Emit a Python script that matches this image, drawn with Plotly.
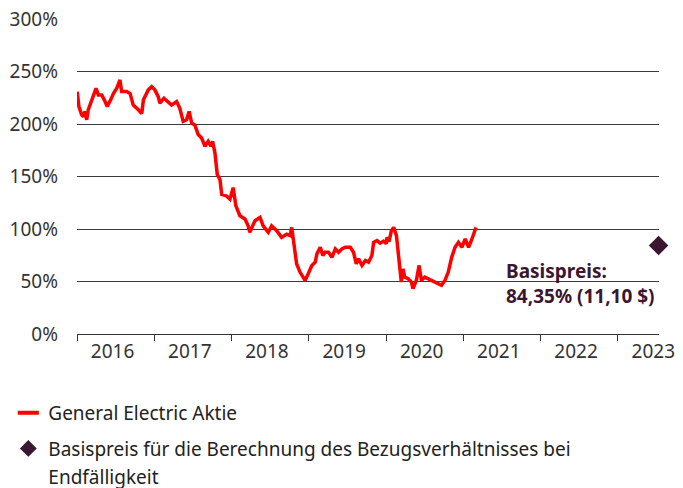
import plotly.graph_objects as go

dates = [
    "2016-01-02", "2016-01-10", "2016-01-23", "2016-01-31", "2016-02-08", "2016-02-16", "2016-02-23",
    "2016-03-11", "2016-03-31", "2016-04-11", "2016-04-27", "2016-05-09", "2016-05-23", "2016-06-08",
    "2016-06-21", "2016-07-07", "2016-07-22", "2016-07-30", "2016-08-23", "2016-09-08", "2016-09-23",
    "2016-10-17", "2016-11-02", "2016-11-10", "2016-12-03", "2016-12-19", "2017-01-03", "2017-01-19",
    "2017-01-27", "2017-02-15", "2017-03-07", "2017-03-23", "2017-04-16", "2017-05-01", "2017-05-17",
    "2017-06-02", "2017-06-14", "2017-06-26", "2017-07-11", "2017-07-27", "2017-08-12", "2017-08-28",
    "2017-09-12", "2017-09-25", "2017-10-03", "2017-10-14", "2017-10-25", "2017-11-07", "2017-11-15",
    "2017-12-08", "2017-12-24", "2018-01-08", "2018-01-21", "2018-02-09", "2018-03-05", "2018-03-20",
    "2018-03-28", "2018-04-21", "2018-05-15", "2018-05-30", "2018-06-23", "2018-07-09", "2018-08-02",
    "2018-08-25", "2018-09-18", "2018-10-04", "2018-10-12", "2018-10-19", "2018-10-27", "2018-11-04",
    "2018-11-20", "2018-12-06", "2018-12-14", "2018-12-29", "2019-01-15", "2019-01-31", "2019-02-08",
    "2019-02-24", "2019-03-08", "2019-03-19", "2019-04-04", "2019-04-20", "2019-05-06", "2019-05-21",
    "2019-06-06", "2019-06-22", "2019-07-16", "2019-07-31", "2019-08-13", "2019-08-24", "2019-09-09",
    "2019-09-25", "2019-10-10", "2019-10-26", "2019-11-03", "2019-11-19", "2019-12-04", "2019-12-20",
    "2020-01-02", "2020-01-05", "2020-01-15", "2020-01-26", "2020-02-06", "2020-02-19", "2020-02-26",
    "2020-03-05", "2020-03-13", "2020-03-21", "2020-03-29", "2020-04-14", "2020-04-30", "2020-05-07",
    "2020-05-23", "2020-06-05", "2020-06-16", "2020-07-02", "2020-07-18", "2020-08-03", "2020-08-19",
    "2020-09-03", "2020-09-19", "2020-10-05", "2020-10-21", "2020-11-06", "2020-11-22", "2020-12-08",
    "2020-12-24", "2021-01-09", "2021-01-25", "2021-02-10", "2021-02-21", "2021-03-01",
]
ge_values = [
    230.8, 216.6, 208.8, 207, 212, 204, 213.5,
    223, 234, 227.7, 227.7, 223, 216.6, 223,
    229, 234, 242, 231, 231, 229, 218,
    213.5, 210, 223, 232.5, 235.6, 232.5, 226,
    219.8, 224.5, 221.4, 218, 221.4, 215, 202.5,
    204, 212, 200.8, 199, 190, 186.7, 178.8,
    183.5, 178.8, 183.5, 172.5, 152, 147, 133,
    131.5, 128.4, 139.4, 122, 112.6, 109.5, 103,
    96.8, 107.9, 111, 103, 96.8, 103, 98.4,
    92, 95, 93.7, 101.5, 92, 79.5, 66.9,
    59, 54.2, 51, 57.4, 65.3, 68.4, 76.3,
    82.6, 74.7, 77.9, 77.9, 73, 81, 77.9,
    81, 82.6, 82.6, 77.9, 66.9, 71.6, 65.3,
    70, 68.4, 74.7, 87.3, 89, 86.5, 88.5,
    86, 92, 88, 98.4, 101.5, 93.7, 79.5,
    63.7, 49.5, 62, 54.2, 52.7, 49.5, 43.2,
    51, 65.3, 51, 54.2, 52.7, 51, 49.5,
    48, 46.4, 51, 59, 73, 82.6, 87.3,
    82.6, 90.5, 82.6, 90.5, 96.8, 101.5,
]

strike_date = ["2023-07-12"]
strike_value = [84.35]
strike_label = "Basispreis:<br>84,35% (11,10 $)"

years = ["2016", "2017", "2018", "2019", "2020", "2021", "2022", "2023"]
year_starts = [y + "-01-01" for y in years]
year_mids = [y + "-06-17" for y in years]
y_ticks = [0, 50, 100, 150, 200, 250, 300]
y_ticktext = [f"{v}%" for v in y_ticks]

series_name = "General Electric Aktie"
strike_name_lines = ["Basispreis für die Berechnung des Bezugsverhältnisses bei", "Endfälligkeit"]

RED = "#ff0000"
PURPLE = "#3b1630"
FONT = "Noto Sans"
FS = 19

fig = go.Figure()
fig.add_trace(go.Scatter(
    x=dates, y=ge_values, mode="lines", line=dict(color=RED, width=3.5),
    showlegend=False, hoverinfo="skip",
))
fig.add_trace(go.Scatter(
    x=strike_date, y=strike_value, mode="markers",
    marker=dict(symbol="diamond", size=15, color=PURPLE),
    showlegend=False, cliponaxis=False,
))
# legend entries
fig.add_trace(go.Scatter(
    x=[None], y=[None], mode="markers", name=series_name, legendgroup="a",
    marker=dict(symbol="line-ew-open", size=15, color=RED, line=dict(color=RED, width=4)),
))
fig.add_trace(go.Scatter(
    x=[None], y=[None], mode="markers", name=strike_name_lines[0], legendgroup="b",
    marker=dict(symbol="diamond", size=13, color=PURPLE),
))
fig.add_trace(go.Scatter(
    x=[None], y=[None], mode="markers", name=strike_name_lines[1], legendgroup="b",
    marker=dict(symbol="diamond", size=13, color="rgba(0,0,0,0)"),
))

fig.add_annotation(
    x="2021-07-09", y=48, xref="x", yref="y", text="<b>" + strike_label + "</b>",
    showarrow=False, xanchor="left", yanchor="middle", align="left",
    font=dict(family=FONT, size=FS, color=PURPLE),
)

fig.update_layout(
    width=683, height=488,
    margin=dict(l=77, r=24, t=19, b=154, autoexpand=False),
    plot_bgcolor="white", paper_bgcolor="white",
    font=dict(family=FONT, size=FS, color="#333333"),
    legend=dict(
        x=-0.118, xanchor="left", y=-0.19, yanchor="top",
        font=dict(family=FONT, size=FS, color="#222222"),
        tracegroupgap=8, bgcolor="rgba(0,0,0,0)",
    ),
)
fig.update_xaxes(
    type="date", range=["2016-01-01", "2023-07-14"],
    tickmode="array", tickvals=year_mids, ticktext=years, ticks="",
    showgrid=False, showline=True, linecolor="#333333", linewidth=1,
    minor=dict(tickmode="array", tickvals=year_starts, ticks="outside",
               ticklen=6, tickcolor="#333333", tickwidth=1, showgrid=False),
    tickfont=dict(size=FS, color="#333333"),
)
fig.update_yaxes(
    range=[0, 300], tickmode="array", tickvals=y_ticks, ticktext=y_ticktext,
    showgrid=True, gridcolor="#3a3a3a", gridwidth=1, zeroline=False,
    showline=False, ticks="", ticklabelstandoff=18,
    tickfont=dict(size=FS, color="#333333"),
)

fig.write_html("out.html", config={"displayModeBar": False},
               post_script="document.body.style.margin='0px';")
